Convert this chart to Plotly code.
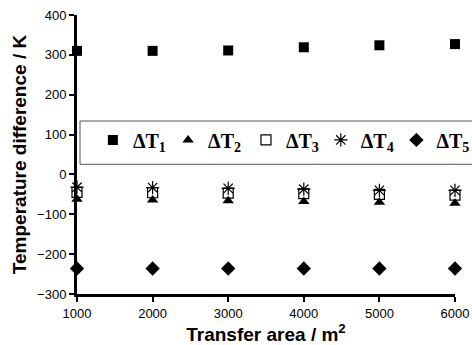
import plotly.graph_objects as go

# Transfer area (m^2)
area = [1000, 2000, 3000, 4000, 5000, 6000]

# Temperature differences (K)
dT1 = [310, 310, 311, 319, 324, 327]
dT2 = [-62, -64, -66, -68, -70, -72]
dT3 = [-45, -46, -47, -48, -50, -52]
dT4 = [-32, -33, -35, -37, -40, -40]
dT5 = [-236, -236, -236, -236, -236, -236]

series = [
    ("<b>ΔT<sub>1</sub></b>", dT1, "square", 10, 0),
    ("<b>ΔT<sub>2</sub></b>", dT2, "triangle-up", 10, 0),
    ("<b>ΔT<sub>3</sub></b>", dT3, "square-open", 10, 1.2),
    ("<b>ΔT<sub>4</sub></b>", dT4, "asterisk-open", 11, 1.2),
    ("<b>ΔT<sub>5</sub></b>", dT5, "diamond", 11, 0),
]

# one legend per series so the entries sit side by side in a single row
legend_ids = ["legend", "legend2", "legend3", "legend4", "legend5"]
legend_x = [0.042, 0.241, 0.447, 0.645, 0.845]

fig = go.Figure()
for (name, ys, sym, sz, lw), lid in zip(series, legend_ids):
    fig.add_trace(go.Scatter(
        x=area, y=ys, mode="markers", name=name, legend=lid,
        marker=dict(symbol=sym, size=sz, color="black",
                    line=dict(color="black", width=lw)),
        cliponaxis=False,
    ))

# legend frame, running off the right edge of the figure
fig.add_shape(
    type="rect", xref="paper", yref="paper",
    x0=0.008, x1=1.07, y0=0.465, y1=0.62,
    line=dict(color="#555555", width=1), fillcolor="white", layer="below",
)

legend_style = dict(
    orientation="h", y=0.622, xanchor="left", yanchor="top",
    borderwidth=0, bgcolor="rgba(0,0,0,0)",
    font=dict(family="Liberation Serif, Times New Roman", size=20, color="black"),
    itemwidth=30,
)
legends = {lid: dict(legend_style, x=lx) for lid, lx in zip(legend_ids, legend_x)}

fig.update_layout(
    width=472, height=345,
    margin=dict(l=77, r=17, t=15, b=51, autoexpand=False),
    paper_bgcolor="white", plot_bgcolor="white",
    font=dict(family="Liberation Sans, Arial", size=13, color="black"),
    showlegend=True,
    **legends,
    xaxis=dict(
        range=[1000, 6000], tickvals=area, ticktext=[str(a) for a in area],
        showline=True, linecolor="black", linewidth=3,
        ticks="outside", ticklen=5, tickwidth=2, tickcolor="black",
        showgrid=False, zeroline=False,
        title=dict(text="<b>Transfer area / m<sup>2</sup></b>",
                   font=dict(size=19), standoff=0),
    ),
    yaxis=dict(
        range=[-300, 400], dtick=100,
        showline=True, linecolor="black", linewidth=3,
        ticks="outside", ticklen=5, tickwidth=2, tickcolor="black",
        showgrid=False, zeroline=False,
        title=dict(text="<b>Temperature difference / K</b>",
                   font=dict(size=19), standoff=6),
    ),
)

fig.write_html("out.html")
